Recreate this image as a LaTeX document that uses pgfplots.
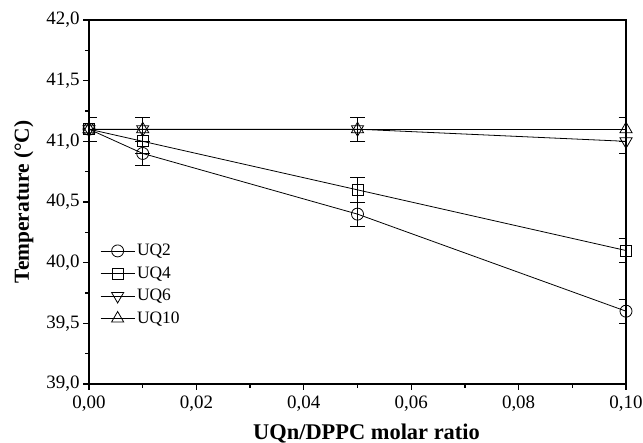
\documentclass[border=0pt]{standalone}
\usepackage{pgfplots}
\pgfplotsset{compat=1.18}
\usepackage{fontspec}
\setmainfont{Liberation Serif}

\begin{document}
\begin{tikzpicture}[x=1bp,y=1bp]
% page frame
\useasboundingbox (0,0) rectangle (643,443);
\begin{axis}[
  at={(89bp,59bp)}, anchor=south west,
  scale only axis,
  width=537bp, height=364bp,
  xmin=0, xmax=0.10, ymin=39.0, ymax=42.0,
  xtick={0,0.02,0.04,0.06,0.08,0.10},
  ytick={39.0,39.5,40.0,40.5,41.0,41.5,42.0},
  minor x tick num=1, minor y tick num=1,
  xtick pos=bottom, ytick pos=left,
  tick align=outside,
  major tick length=6bp, minor tick length=4bp,
  axis line style={line width=1.5pt},
  every tick/.style={black, line width=1.3pt},
  scaled x ticks=false,
  /pgf/number format/assume math mode=true,
  x tick label style={yshift=-2bp, /pgf/number format/.cd, fixed, fixed zerofill, precision=2, use comma},
  y tick label style={/pgf/number format/.cd, fixed, fixed zerofill, precision=1, use comma},
  ticklabel style={font=\fontsize{19}{20}\selectfont},
  xlabel={\textbf{UQn/DPPC molar ratio}},
  ylabel={\textbf{Temperature (\textdegree C)}},
  xlabel style={font=\fontsize{22.5}{24}\selectfont, yshift=-6bp, xshift=9bp},
  ylabel style={font=\fontsize{21.5}{23}\selectfont, yshift=6bp},
  legend style={draw=none, fill=none, at={(0.015,0.395)}, anchor=north west,
    font=\fontsize{17.5}{18}\selectfont, row sep=5.5bp},
  legend cell align=left,
  legend image code/.code={
    \draw[mark repeat=2, mark phase=2, line width=0.8pt]
      plot coordinates {(0bp,0bp) (17bp,0bp) (34bp,0bp)};
  },
  error bars/y dir=both, error bars/y explicit,
  error bars/error bar style={black, line width=0.9pt},
  error bars/error mark options={rotate=90, mark size=7.5bp, line width=0.9pt, black},
]
% UQ2
\addplot[black, line width=0.8pt, mark=o, mark size=6bp,
  mark options={fill=white, line width=0.8pt}] coordinates {
  (0,41.1) +- (0,0.1)
  (0.01,40.9) +- (0,0.1)
  (0.05,40.4) +- (0,0.1)
  (0.10,39.6) +- (0,0.1)
};
\addlegendentry{UQ2}
% UQ4
\addplot[black, line width=0.8pt, mark=square, mark size=5.5bp,
  mark options={fill=white, line width=0.8pt}] coordinates {
  (0,41.1) +- (0,0.1)
  (0.01,41.0) +- (0,0.1)
  (0.05,40.6) +- (0,0.1)
  (0.10,40.1) +- (0,0.1)
};
\addlegendentry{UQ4}
% UQ6
\addplot[black, line width=0.8pt, mark=triangle, mark size=7bp,
  mark options={fill=white, line width=0.8pt, rotate=180}] coordinates {
  (0,41.1) +- (0,0.1)
  (0.01,41.1) +- (0,0.1)
  (0.05,41.1) +- (0,0.1)
  (0.10,41.0) +- (0,0.1)
};
\addlegendentry{UQ6}
% UQ10
\addplot[black, line width=0.8pt, mark=triangle, mark size=7bp,
  mark options={fill=white, line width=0.8pt}] coordinates {
  (0,41.1) +- (0,0.1)
  (0.01,41.1) +- (0,0.1)
  (0.05,41.1) +- (0,0.1)
  (0.10,41.1) +- (0,0.1)
};
\addlegendentry{UQ10}
\end{axis}
\end{tikzpicture}
\end{document}
